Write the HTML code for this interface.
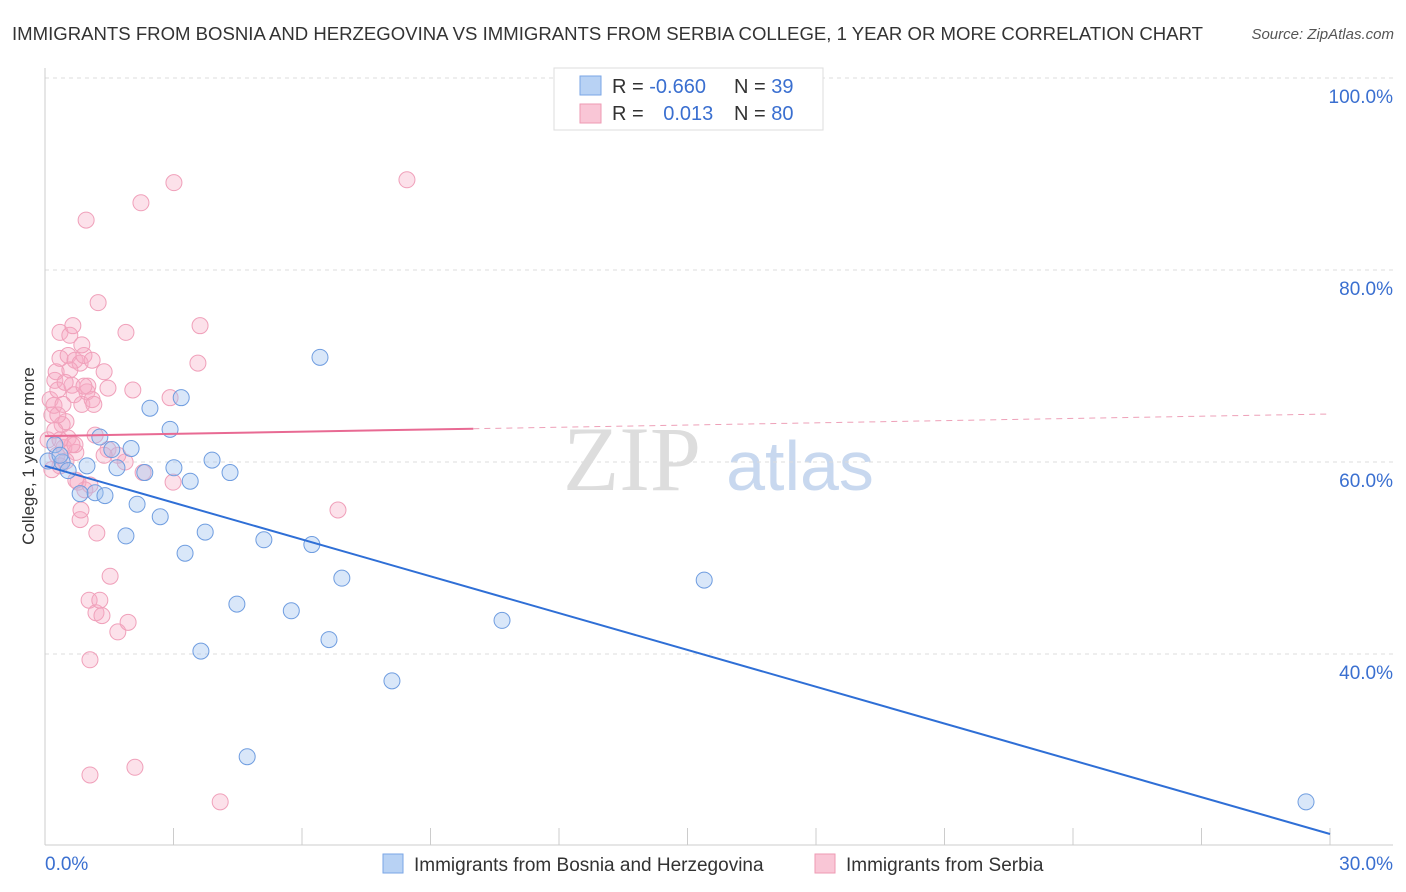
<!DOCTYPE html>
<html><head><meta charset="utf-8"><style>
body{margin:0;background:#fff;font-family:"Liberation Sans",sans-serif;}
svg{display:block}
</style></head><body>
<svg id="c" width="1406" height="892" xmlns="http://www.w3.org/2000/svg">
<text x="12" y="40" font-size="18" fill="#333" textLength="1191" lengthAdjust="spacingAndGlyphs">IMMIGRANTS FROM BOSNIA AND HERZEGOVINA VS IMMIGRANTS FROM SERBIA COLLEGE, 1 YEAR OR MORE CORRELATION CHART</text>
<text x="1394" y="39" font-size="15" fill="#555" font-style="italic" text-anchor="end">Source: ZipAtlas.com</text>
<text x="34" y="456" font-size="17" fill="#333" text-anchor="middle" transform="rotate(-90 34 456)">College, 1 year or more</text>
<text x="632" y="490" font-size="92" fill="#ddd" font-family="Liberation Serif,serif" text-anchor="middle">ZIP</text>
<text x="800" y="490" font-size="70" fill="#c8d8ef" text-anchor="middle">atlas</text>
<g id="grid"></g><g id="pts"></g><g id="lines"></g>
<g>
<rect x="554" y="68" width="269" height="62" fill="#fff" stroke="#ddd"/>
<rect x="580" y="76" width="21" height="19" fill="#b8d2f4" stroke="#7aa6e6"/>
<rect x="580" y="104" width="21" height="19" fill="#f9c6d6" stroke="#ee9ab3"/>
<text x="612" y="93" font-size="20" fill="#333">R = <tspan fill="#3a6fd0">-0.660</tspan></text>
<text x="734" y="93" font-size="20" fill="#333">N = <tspan fill="#3a6fd0">39</tspan></text>
<text x="612" y="120" font-size="20" fill="#333">R = <tspan fill="#3a6fd0" dx="14">0.013</tspan></text>
<text x="734" y="120" font-size="20" fill="#333">N = <tspan fill="#3a6fd0">80</tspan></text>
</g>
<g>
<rect x="383" y="854" width="20" height="19" fill="#b8d2f4" stroke="#7aa6e6"/>
<text x="414" y="871" font-size="19" fill="#333">Immigrants from Bosnia and Herzegovina</text>
<rect x="815" y="854" width="20" height="19" fill="#f9c6d6" stroke="#ee9ab3"/>
<text x="846" y="871" font-size="19" fill="#333">Immigrants from Serbia</text>
</g>
</svg>
<script>
const yTicks=[40,60,80,100];
const yTickLabels=["40.0%","60.0%","80.0%","100.0%"];
const xTickLabels=["0.0%","30.0%"];
const blueX=[.07,.23,.40,.54,.82,.98,1.17,1.28,1.40,1.56,1.68,1.89,2.01,2.15,2.33,2.45,2.69,2.92,3.01,3.18,3.27,3.39,3.64,3.74,3.90,4.32,4.48,4.72,5.11,5.75,6.23,6.42,6.63,6.93,8.10,10.67,15.39,29.44,.35];
const blueY=[60.1,61.8,60.0,59.1,56.7,59.6,56.8,62.6,56.5,61.3,59.4,52.3,61.4,55.6,58.9,65.6,54.3,63.4,59.4,66.7,50.5,58.0,40.3,52.7,60.2,58.9,45.2,29.3,51.9,44.5,51.4,70.9,41.5,47.9,37.2,43.5,47.7,24.6,60.7];
const pinkX=[.07,.12,.16,.21,.23,.26,.28,.30,.35,.35,.40,.44,.49,.54,.54,.58,.63,.65,.68,.70,.72,.77,.82,.82,.84,.86,.91,.96,.98,1.00,1.03,1.05,1.05,1.10,1.14,1.19,1.21,1.24,1.28,1.33,1.38,1.47,1.52,1.70,1.87,1.89,1.94,2.05,2.10,2.24,2.29,2.92,2.99,3.01,3.57,3.62,4.09,6.84,8.45,.30,.49,.70,.93,.42,.58,1.10,1.47,1.70,.35,.16,.47,.72,.23,1.05,1.38,.91,.63,1.17,.86,.35];
const pinkY=[62.3,66.5,64.9,65.9,68.5,69.4,60.7,67.5,73.5,70.8,63.9,61.5,64.2,71.1,62.5,73.2,68.0,74.2,67.0,70.6,61.0,57.9,54.0,70.3,55.0,66.0,71.1,85.2,67.3,67.9,45.6,39.4,27.4,66.5,66.0,44.3,52.6,76.6,45.6,44.0,69.4,67.7,48.1,42.3,60.0,73.5,43.3,67.5,28.2,87.0,58.9,66.7,57.9,89.1,70.3,74.2,24.6,55.0,89.4,64.9,60.1,61.8,57.1,66.0,69.6,70.6,61.3,60.7,59.6,59.2,68.3,58.1,63.3,57.6,60.7,67.9,61.8,62.8,72.2,62.3];
const blueTrend=[59.6,21.25];
const pinkTrend=[62.7,65.0];
const pinkSolidEnd=10;
const NS="http://www.w3.org/2000/svg";
const X=v=>45+v*1285/30, Y=v=>78+(100-v)*9.6;
function mk(t,a,p){const e=document.createElementNS(NS,t);for(const k in a)e.setAttribute(k,a[k]);p.appendChild(e);return e;}
const g=document.getElementById('grid');
yTicks.forEach((t,i)=>{
 const l=mk('line',{x1:45,x2:1393,y1:Y(t),y2:Y(t),stroke:'#ddd','stroke-dasharray':'4,4'},g);
 
 
 const tx=mk('text',{x:1393,y:Y(t)+25,'font-size':19,fill:'#3a6fd0','text-anchor':'end'},g);
 tx.textContent=yTickLabels[i];
 
 
});
const ax=mk('line',{x1:45,x2:1393,y1:845,y2:845,stroke:'#ccc'},g);


const ay=mk('line',{x1:45,x2:45,y1:68,y2:845,stroke:'#ccc'},g);


for(let i=0;i<=10;i++){
 const t=mk('line',{x1:X(i*3),x2:X(i*3),y1:828,y2:845,stroke:'#ccc'},g);
 
 
}
[[0,'start',45],[30,'end',1393]].forEach((d,i)=>{
 const tx=mk('text',{x:d[2],y:870,'font-size':19,fill:'#3a6fd0','text-anchor':d[1]},g);
 tx.textContent=xTickLabels[i];
 
 
});
const p=document.getElementById('pts');
pinkX.forEach((x,i)=>{
 const c=mk('circle',{cx:X(x),cy:Y(pinkY[i]),r:8,fill:'rgba(246,170,195,0.35)',stroke:'#f0a0ba','stroke-width':1},p);
 
 
});
blueX.forEach((x,i)=>{
 const c=mk('circle',{cx:X(x),cy:Y(blueY[i]),r:8,fill:'rgba(160,195,240,0.4)',stroke:'#6f9de0','stroke-width':1},p);
 
 
});
const L=document.getElementById('lines');
const bl=mk('line',{x1:X(0),y1:Y(blueTrend[0]),x2:X(30),y2:Y(blueTrend[1]),stroke:'#2f6fd6','stroke-width':2},L);


const pv=x=>pinkTrend[0]+(pinkTrend[1]-pinkTrend[0])*x/30;
const ps=mk('line',{x1:X(0),y1:Y(pv(0)),x2:X(pinkSolidEnd),y2:Y(pv(pinkSolidEnd)),stroke:'#e86a93','stroke-width':2},L);


const pd=mk('line',{x1:X(pinkSolidEnd),y1:Y(pv(pinkSolidEnd)),x2:X(30),y2:Y(pv(30)),stroke:'#eea0b8','stroke-width':1,'stroke-dasharray':'6,5'},L);


</script>
</body></html>
